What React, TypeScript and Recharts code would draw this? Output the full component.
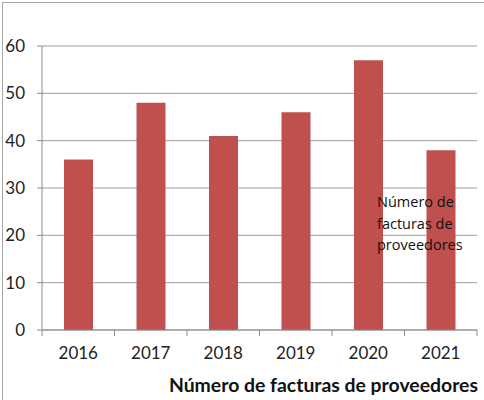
import React from "react";
import { BarChart, Bar, XAxis, YAxis, CartesianGrid } from "recharts";

const categories = ["2016", "2017", "2018", "2019", "2020", "2021"];
const invoices = [36, 48, 41, 46, 57, 38];
const yTicks = [0, 10, 20, 30, 40, 50, 60];
const seriesName = "Número de facturas de proveedores";
const legendLines = ["Número de", "facturas de", "proveedores"];

const data = categories.map((c, i) => ({ year: c, value: invoices[i] }));

const XTick = (props: any) => {
  const { x, y, payload, index, visibleTicksCount } = props;
  const off = payload.offset || 0;
  const last = index === (visibleTicksCount ?? categories.length) - 1;
  return (
    <g>
      <line x1={x - off} x2={x - off} y1={y} y2={y + 6} stroke="#8c8c8c" strokeWidth={1} />
      {last && <line x1={x + off} x2={x + off} y1={y} y2={y + 6} stroke="#8c8c8c" strokeWidth={1} />}
      <text x={x} y={y + 29} textAnchor="middle" fill="#222" fontSize={17} fontFamily="Lato">
        {payload.value}
      </text>
    </g>
  );
};

export default function App() {
  return (
    <div style={{ position: "absolute", left: 0, top: 0, width: 484, height: 400, background: "#fff" }}>
      <div
        style={{
          position: "absolute",
          left: 2,
          top: 2,
          width: 482,
          height: 398,
          borderTop: "1px solid #a6a6a6",
          borderLeft: "1px solid #a6a6a6",
        }}
      />
      <BarChart
        width={484}
        height={400}
        data={data}
        margin={{ top: 46, right: 7, bottom: 40, left: 0 }}
      >
        <CartesianGrid vertical={false} stroke="#9e9e9e" />
        <XAxis
          dataKey="year"
          height={30}
          tickLine={false}
          tickSize={0}
          tickMargin={0}
          stroke="#8c8c8c"
          tick={<XTick />}
          interval={0}
        />
        <YAxis
          width={42}
          domain={[0, 60]}
          ticks={yTicks}
          tickSize={5}
          tickMargin={12}
          stroke="#8c8c8c"
          tick={{ fill: "#222", fontSize: 17, fontFamily: "Lato" }}
        />
        <Bar dataKey="value" name={seriesName} fill="#c0504d" barSize={29} isAnimationActive={false} />
      </BarChart>
      <div
        style={{
          position: "absolute",
          left: 377,
          top: 191,
          fontFamily: "Open Sans",
          fontSize: 14.5,
          lineHeight: "21.5px",
          color: "#111",
          whiteSpace: "nowrap",
        }}
      >
        {legendLines.map((l) => (
          <div key={l}>{l}</div>
        ))}
      </div>
      <div
        style={{
          position: "absolute",
          right: 6,
          top: 373,
          fontFamily: "Lato",
          fontWeight: "bold",
          fontSize: 19.4,
          color: "#111",
          whiteSpace: "nowrap",
        }}
      >
        {seriesName}
      </div>
    </div>
  );
}
